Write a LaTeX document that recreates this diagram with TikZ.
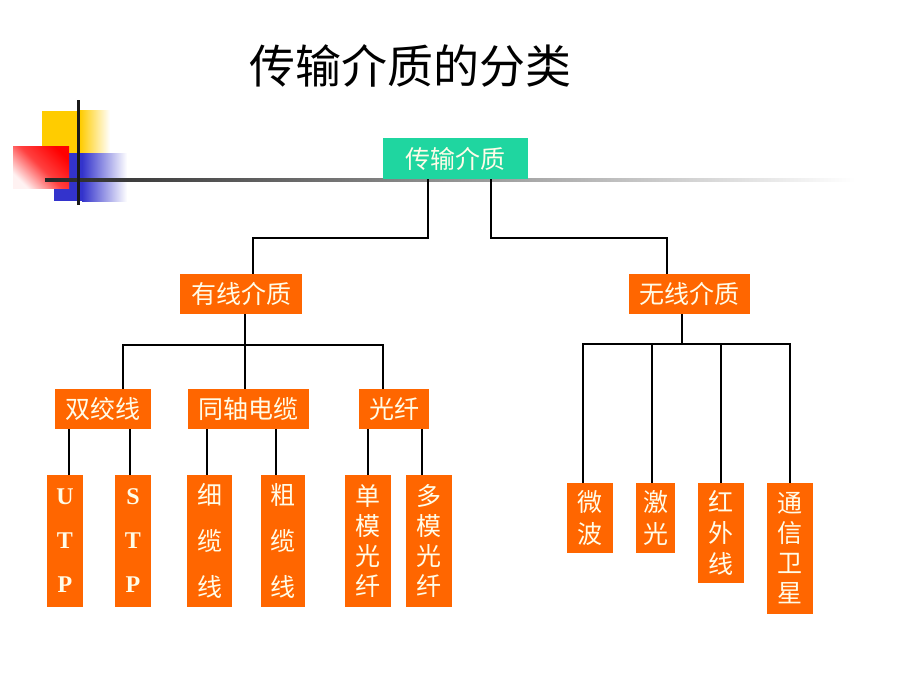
\documentclass[tikz,border=0pt]{standalone}
\usepackage{fontspec}
\newfontfamily\cjk{Noto Sans CJK SC}
\newfontfamily\tms{Liberation Serif}
\definecolor{orng}{HTML}{FF6600}
\definecolor{teal1}{HTML}{1FD6A0}
\definecolor{txt}{HTML}{FFFCE8}
\definecolor{yel}{HTML}{FFCC00}
\definecolor{blu}{HTML}{3333CC}
\begin{document}
\begin{tikzpicture}[x=1pt,y=-1pt,
  box/.style={fill=orng, text=txt, inner sep=0pt, align=center, font=\cjk\fontsize{25}{30}\selectfont},
  conn/.style={line width=2pt, black}]
\useasboundingbox[fill=white] (0,0) rectangle (920,690);
% decoration
\fill[yel] (42,111) rectangle (80.5,153);
\shade[left color=yel, right color=white] (80,111) rectangle (110,153);
\fill[blu] (54,153) rectangle (82.5,201);
\shade[left color=blu, right color=white] (82,153) rectangle (127,201);
\shade[top color=red, bottom color=red!5, middle color=red!75, shading angle=-45] (13,146) rectangle (69,188);
\shade[left color=black!85, right color=white] (45,178.5) rectangle (855,181.5);
\fill[black!90] (76.5,100) rectangle (79.5,205);
% title
\node[text=black, font=\cjk\fontsize{46}{50}\selectfont] (title) at (410,66) {传输介质的分类};
% nodes
\node[box, fill=teal1, minimum width=145pt, minimum height=41pt] (root) at (455.5,158.5) {传输介质};
\node[box, minimum width=122pt, minimum height=40pt] (wired) at (241,294) {有线介质};
\node[box, minimum width=121pt, minimum height=40pt] (wireless) at (689.5,294) {无线介质};
\node[box, minimum width=96pt, minimum height=40pt] (twisted) at (103,409) {双绞线};
\node[box, minimum width=121pt, minimum height=40pt] (coax) at (248.5,409) {同轴电缆};
\node[box, minimum width=70pt, minimum height=40pt] (fiber) at (394,409) {光纤};
\node[box, minimum width=36pt, minimum height=132pt, font=\tms\bfseries\fontsize{24}{44}\selectfont] (utp) at (65,541) {U\\T\\P};
\node[box, minimum width=36pt, minimum height=132pt, font=\tms\bfseries\fontsize{24}{44}\selectfont] (stp) at (133,541) {S\\T\\P};
\node[box, minimum width=45pt, minimum height=132pt, font=\cjk\fontsize{25}{46}\selectfont] (thin) at (209.5,541) {细\\缆\\线};
\node[box, minimum width=44pt, minimum height=132pt, font=\cjk\fontsize{25}{46}\selectfont] (thick) at (283,541) {粗\\缆\\线};
\node[box, minimum width=46pt, minimum height=132pt] (single) at (368,541) {单\\模\\光\\纤};
\node[box, minimum width=46pt, minimum height=132pt] (multi) at (429,541) {多\\模\\光\\纤};
\node[box, minimum width=46pt, minimum height=70pt, font=\cjk\fontsize{25}{32}\selectfont] (micro) at (590,518) {微\\波};
\node[box, minimum width=39pt, minimum height=70pt, font=\cjk\fontsize{25}{32}\selectfont] (laser) at (655.5,518) {激\\光};
\node[box, minimum width=46pt, minimum height=100pt, font=\cjk\fontsize{25}{31}\selectfont] (ir) at (721,533) {红\\外\\线};
\node[box, minimum width=46pt, minimum height=131pt] (sat) at (790,548.5) {通\\信\\卫\\星};
% junction coordinates
\coordinate (j1) at (253,238);
\coordinate (j2) at (667,238);
\coordinate (h1) at (245,345);
\coordinate (t1) at (123,345);
\coordinate (t3) at (383,345);
\coordinate (w0) at (682,344);
\coordinate (w1) at (583,344);
\coordinate (w2) at (652,344);
\coordinate (w3) at (721,344);
\coordinate (w4) at (790,344);
% connectors
\draw[conn] ([xshift=-27.5pt]root.south) |- (j1) -- (j1 |- wired.north);
\draw[conn] ([xshift=35.5pt]root.south) |- (j2) -- (j2 |- wireless.north);
\draw[conn] (wired.south -| h1) -- (h1 |- coax.north);
\draw[conn] (t1 |- twisted.north) -- (t1) -- (t3) -- (t3 |- fiber.north);
\draw[conn] (wireless.south -| w0) -- (w0);
\draw[conn] (w1 |- micro.north) -- (w1) -- (w4) -- (w4 |- sat.north);
\draw[conn] (w2) -- (w2 |- laser.north);
\draw[conn] (w3) -- (w3 |- ir.north);
\draw[conn] ([xshift=4pt]utp.north) -- ([xshift=4pt]utp.north |- twisted.south);
\draw[conn] ([xshift=-3pt]stp.north) -- ([xshift=-3pt]stp.north |- twisted.south);
\draw[conn] ([xshift=-2.5pt]thin.north) -- ([xshift=-2.5pt]thin.north |- coax.south);
\draw[conn] ([xshift=-7pt]thick.north) -- ([xshift=-7pt]thick.north |- coax.south);
\draw[conn] (single.north) -- (single.north |- fiber.south);
\draw[conn] ([xshift=-7pt]multi.north) -- ([xshift=-7pt]multi.north |- fiber.south);
\end{tikzpicture}
\end{document}
